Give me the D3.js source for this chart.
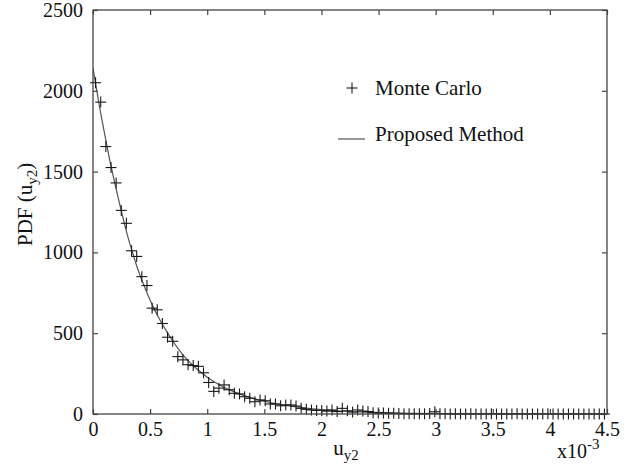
<!DOCTYPE html>
<html><head><meta charset="utf-8">
<script src="https://cdn.jsdelivr.net/npm/d3@7"></script>
<style>body{margin:0;background:#fff;} svg{display:block;}</style>
</head><body>
<script>
// x values in units of 1e-3
const xTicks = [0,0.5,1,1.5,2,2.5,3,3.5,4,4.5];
const xTickLabels = ["0","0.5","1","1.5","2","2.5","3","3.5","4","4.5"];
const yTicks = [0,500,1000,1500,2000,2500];
const yTickLabels = ["0","500","1000","1500","2000","2500"];

// Monte Carlo histogram (bin width 0.045e-3, first center 0.0225e-3)
const mcBinWidth = 0.045;
const mcValues = [2050,1930,1655,1525,1430,1260,1180,1010,975,850,
  795,655,645,560,475,450,355,335,305,300,
  295,255,195,140,160,180,150,128,124,107,
  97,76,87,82,62,62,51,56,56,49,
  35,29,25,22,22,18,25,15,35,20,
  12,25,18,15,8,6,6,5,4,3,
  2,2,1,2,1,3,14,2,1,0,
  1,0,0,1,0,0,0,2,0,0,
  0,0,1,0,0,0,0,0,1,0,
  0,0,0,0,0,0,0,0,0,0];

// Proposed method curve
const curveX = [0,0.05,0.1,0.15,0.2,0.25,0.3,0.35,0.4,0.45,0.5,0.55,0.6,0.65,0.7,0.75,0.8,0.85,0.9,0.95,1.0,1.1,1.2,1.3,1.4,1.5,1.6,1.7,1.8,1.9,2.0,2.2,2.4,2.6,2.8,3.0,3.5,4.0,4.5];
const curveY = [2140,1930,1740,1560,1400,1250,1110,990,880,790,705,630,565,505,450,400,355,318,285,255,228,183,148,120,97,79,64,52,42,34,27,17,11,7,4,2.5,1,0,0];

const W = 633, H = 473;
const m = {left:93, right:607, top:10, bottom:414};
const svg = d3.select("body").append("svg").attr("width",W).attr("height",H)
  .style("font-family","'Liberation Serif','Times New Roman',serif");
svg.append("rect").attr("width",W).attr("height",H).attr("fill","#fff");

const x = d3.scaleLinear().domain([0,4.5]).range([m.left,m.right]);
const y = d3.scaleLinear().domain([0,2500]).range([m.bottom,m.top]);
const axisColor = "#444";
const fs = 20, fsL = 21, fsSub = 15;

// clip
svg.append("clipPath").attr("id","clip").append("rect")
  .attr("x",m.left).attr("y",m.top).attr("width",m.right-m.left).attr("height",m.bottom-m.top);

// curve
const line = d3.line().x((d,i)=>x(curveX[i])).y(d=>y(d)).curve(d3.curveMonotoneX);
svg.append("path").datum(curveY).attr("d",line).attr("fill","none")
  .attr("stroke","#555").attr("stroke-width",1.2).attr("clip-path","url(#clip)");

// markers
const mcData = mcValues.map((v,i)=>({x:(i+0.5)*mcBinWidth, y:v}));
const s = 5.5;
const g = svg.append("g").attr("stroke","#1a1a1a").attr("stroke-width",1.1);
mcData.forEach(d=>{
  const cx = x(d.x), cy = y(d.y);
  g.append("line").attr("x1",cx-s).attr("x2",cx+s).attr("y1",cy).attr("y2",cy);
  g.append("line").attr("x1",cx).attr("x2",cx).attr("y1",cy-s).attr("y2",cy+s);
});

// axes box
const tl = 5;
const axB = d3.axisBottom(x).tickValues(xTicks).tickFormat((d,i)=>xTickLabels[i]).tickSizeInner(-tl).tickSizeOuter(0).tickPadding(8);
const axT = d3.axisTop(x).tickValues(xTicks).tickFormat("").tickSizeInner(-tl).tickSizeOuter(0);
const axL = d3.axisLeft(y).tickValues(yTicks).tickFormat((d,i)=>yTickLabels[i]).tickSizeInner(-tl).tickSizeOuter(0).tickPadding(10);
const axR = d3.axisRight(y).tickValues(yTicks).tickFormat("").tickSizeInner(-tl).tickSizeOuter(0);

function styleAxis(sel){
  sel.select(".domain").remove();
  sel.selectAll("line").attr("stroke",axisColor).attr("stroke-width",1.2);
  sel.selectAll("text").attr("fill","#111").style("font-size",fs+"px").style("font-family","'Liberation Serif',serif");
}
svg.append("g").attr("transform",`translate(0,${m.bottom})`).call(axB).call(styleAxis);
svg.append("g").attr("transform",`translate(0,${m.top})`).call(axT).call(styleAxis);
svg.append("g").attr("transform",`translate(${m.left},0)`).call(axL).call(styleAxis);
svg.append("g").attr("transform",`translate(${m.right},0)`).call(axR).call(styleAxis);
svg.append("rect").attr("x",m.left).attr("y",m.top).attr("width",m.right-m.left).attr("height",m.bottom-m.top)
  .attr("fill","none").attr("stroke",axisColor).attr("stroke-width",1.3);

// x title
const xt = svg.append("text").attr("x",346).attr("y",455).attr("text-anchor","middle")
  .attr("fill","#111").style("font-size",fsL+"px");
xt.append("tspan").text("u");
xt.append("tspan").attr("dy",5).style("font-size",fsSub+"px").text("y2");

// exponent label
const ex = svg.append("text").attr("x",557).attr("y",458).attr("fill","#111").style("font-size",fs+"px");
ex.append("tspan").text("x10");
ex.append("tspan").attr("dy",-9).style("font-size",fsSub+"px").text("-3");

// y title
const yt = svg.append("text").attr("transform","translate(32,246) rotate(-90)").attr("text-anchor","start")
  .attr("fill","#111").style("font-size",fsL+"px");
yt.append("tspan").text("PDF (u");
yt.append("tspan").attr("dy",5).style("font-size",fsSub+"px").text("y2");
yt.append("tspan").attr("dy",-5).text(")");

// legend
const lg = svg.append("g");
lg.append("line").attr("x1",352-s).attr("x2",352+s).attr("y1",88).attr("y2",88).attr("stroke","#1a1a1a").attr("stroke-width",1.1);
lg.append("line").attr("x1",352).attr("x2",352).attr("y1",88-s).attr("y2",88+s).attr("stroke","#1a1a1a").attr("stroke-width",1.1);
lg.append("text").attr("x",375).attr("y",95).attr("fill","#111").style("font-size",fsL+"px").text("Monte Carlo");
lg.append("line").attr("x1",338).attr("x2",365).attr("y1",139).attr("y2",139).attr("stroke","#555").attr("stroke-width",1.2);
lg.append("text").attr("x",375).attr("y",141).attr("fill","#111").style("font-size",fsL+"px").text("Proposed Method");
</script>
</body></html>
